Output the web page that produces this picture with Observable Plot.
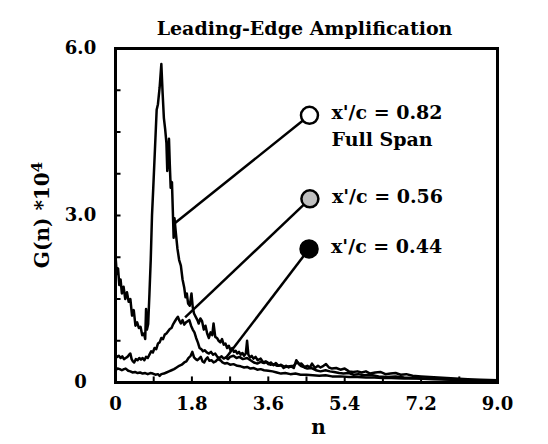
<!DOCTYPE html>
<html><head><meta charset="utf-8">
<script src="https://cdn.jsdelivr.net/npm/d3@7"></script>
<script src="https://cdn.jsdelivr.net/npm/@observablehq/plot@0.6"></script>
<style>body{margin:0;background:#fff}</style>
</head><body><div id="chart"></div>
<script>
// x'/c = 0.82 Full Span  [n, G(n)*1e4]
const series082 = [[0,2.28],[0.03,1.95],[0.06,2.05],[0.09,1.75],[0.12,1.85],[0.15,1.6],[0.19,1.72],[0.23,1.5],[0.27,1.62],[0.31,1.45],[0.35,1.5],[0.39,1.2],[0.43,1.3],[0.47,1.02],[0.51,1.08],[0.55,0.98],[0.59,1.0],[0.63,0.85],[0.67,0.88],[0.70,0.78],[0.72,1.32],[0.74,0.95],[0.77,1.05],[0.80,1.6],[0.83,2.2],[0.86,3.0],[0.89,3.5],[0.93,4.2],[0.97,4.9],[1.0,5.0],[1.04,5.3],[1.08,5.72],[1.11,5.2],[1.14,4.75],[1.17,4.55],[1.20,4.3],[1.22,3.8],[1.24,4.1],[1.26,4.38],[1.28,3.9],[1.30,3.5],[1.33,3.6],[1.35,3.1],[1.37,2.6],[1.39,2.95],[1.42,2.7],[1.46,2.4],[1.50,2.2],[1.54,2.1],[1.58,1.85],[1.62,1.7],[1.65,1.53],[1.68,1.6],[1.71,1.42],[1.75,1.38],[1.79,1.6],[1.82,1.35],[1.85,1.24],[1.89,1.18],[1.93,1.12],[1.96,1.06],[2.0,1.15],[2.04,1.1],[2.08,0.95],[2.12,1.02],[2.16,0.88],[2.2,0.8],[2.24,0.9],[2.28,0.85],[2.31,1.06],[2.35,0.82],[2.39,0.8],[2.43,0.75],[2.47,0.72],[2.51,0.78],[2.55,0.68],[2.59,0.7],[2.63,0.62],[2.67,0.66],[2.71,0.58],[2.75,0.62],[2.79,0.55],[2.83,0.57],[2.87,0.52],[2.91,0.55],[2.95,0.5],[2.99,0.53],[3.03,0.48],[3.07,0.52],[3.1,0.75],[3.13,0.5],[3.17,0.45],[3.21,0.48],[3.25,0.43],[3.3,0.46],[3.35,0.4],[3.42,0.43],[3.48,0.36],[3.54,0.38],[3.6,0.33],[3.66,0.36],[3.72,0.31],[3.78,0.35],[3.84,0.3],[3.9,0.32],[3.96,0.26],[4.02,0.3],[4.08,0.27],[4.14,0.29],[4.2,0.26],[4.26,0.4],[4.32,0.33],[4.38,0.34],[4.45,0.28],[4.52,0.3],[4.58,0.27],[4.63,0.34],[4.7,0.26],[4.77,0.3],[4.83,0.27],[4.9,0.3],[4.96,0.33],[5.03,0.27],[5.1,0.25],[5.2,0.26],[5.3,0.23],[5.4,0.25],[5.5,0.2],[5.6,0.19],[5.7,0.2],[5.8,0.18],[5.9,0.2],[6.0,0.16],[6.12,0.18],[6.24,0.19],[6.36,0.15],[6.48,0.16],[6.6,0.17],[6.72,0.14],[6.85,0.15],[7.0,0.12],[7.2,0.11],[7.4,0.1],[7.6,0.09],[7.8,0.08],[8.0,0.07],[8.3,0.06],[8.6,0.05],[9.0,0.04]];
// x'/c = 0.56
const series056 = [[0,0.5],[0.04,0.46],[0.08,0.48],[0.12,0.44],[0.16,0.47],[0.2,0.42],[0.24,0.44],[0.28,0.46],[0.32,0.5],[0.35,0.52],[0.38,0.42],[0.41,0.38],[0.44,0.36],[0.48,0.42],[0.52,0.4],[0.56,0.44],[0.6,0.41],[0.64,0.44],[0.68,0.4],[0.72,0.46],[0.76,0.44],[0.8,0.5],[0.84,0.56],[0.88,0.54],[0.92,0.62],[0.96,0.6],[1.0,0.7],[1.04,0.72],[1.08,0.8],[1.12,0.78],[1.16,0.86],[1.2,0.88],[1.24,0.92],[1.28,0.96],[1.32,0.98],[1.36,1.05],[1.4,1.1],[1.44,1.15],[1.47,1.18],[1.5,1.12],[1.54,1.06],[1.58,1.12],[1.62,1.04],[1.66,1.08],[1.7,1.1],[1.74,1.12],[1.78,1.02],[1.82,0.95],[1.86,0.9],[1.9,0.8],[1.94,0.72],[1.98,0.62],[2.02,0.6],[2.06,0.56],[2.1,0.58],[2.15,0.54],[2.2,0.52],[2.25,0.55],[2.3,0.5],[2.35,0.52],[2.4,0.46],[2.45,0.44],[2.5,0.47],[2.55,0.43],[2.6,0.45],[2.65,0.42],[2.7,0.46],[2.78,0.48],[2.85,0.44],[2.92,0.46],[3.0,0.42],[3.1,0.44],[3.18,0.4],[3.26,0.36],[3.34,0.34],[3.42,0.37],[3.5,0.35],[3.57,0.37],[3.65,0.32],[3.73,0.33],[3.81,0.3],[3.9,0.31],[4.0,0.28],[4.1,0.29],[4.2,0.3],[4.28,0.37],[4.36,0.3],[4.45,0.27],[4.52,0.25],[4.62,0.26],[4.72,0.22],[4.83,0.2],[4.95,0.22],[5.05,0.2],[5.15,0.19],[5.27,0.17],[5.37,0.16],[5.5,0.17],[5.61,0.14],[5.72,0.15],[5.84,0.13],[6.0,0.14],[6.2,0.11],[6.4,0.1],[6.6,0.11],[6.8,0.09],[7.0,0.08],[7.3,0.07],[7.6,0.07],[8.0,0.05],[8.4,0.04],[8.7,0.04],[9.0,0.03]];
// x'/c = 0.44
const series044 = [[0,0.22],[0.05,0.25],[0.1,0.24],[0.15,0.22],[0.2,0.24],[0.24,0.25],[0.3,0.21],[0.35,0.2],[0.4,0.18],[0.46,0.19],[0.52,0.17],[0.58,0.18],[0.64,0.16],[0.7,0.17],[0.76,0.15],[0.82,0.17],[0.88,0.16],[0.94,0.14],[1.0,0.15],[1.04,0.12],[1.08,0.15],[1.14,0.16],[1.2,0.18],[1.26,0.2],[1.32,0.22],[1.38,0.24],[1.44,0.27],[1.5,0.3],[1.56,0.32],[1.62,0.36],[1.67,0.38],[1.72,0.44],[1.77,0.48],[1.81,0.55],[1.85,0.45],[1.89,0.42],[1.93,0.4],[1.97,0.43],[2.01,0.46],[2.05,0.38],[2.09,0.36],[2.13,0.42],[2.17,0.45],[2.21,0.39],[2.26,0.4],[2.31,0.36],[2.36,0.38],[2.41,0.42],[2.47,0.4],[2.52,0.36],[2.58,0.34],[2.63,0.35],[2.7,0.32],[2.78,0.33],[2.87,0.3],[2.95,0.29],[3.03,0.27],[3.1,0.28],[3.18,0.25],[3.26,0.26],[3.34,0.23],[3.42,0.24],[3.5,0.22],[3.6,0.21],[3.7,0.2],[3.8,0.18],[3.9,0.16],[4.0,0.17],[4.12,0.15],[4.24,0.16],[4.36,0.14],[4.5,0.14],[4.65,0.13],[4.8,0.12],[4.95,0.13],[5.1,0.11],[5.3,0.11],[5.5,0.1],[5.7,0.1],[5.9,0.09],[6.1,0.09],[6.3,0.08],[6.5,0.08],[6.8,0.07],[7.1,0.07],[7.5,0.06],[7.9,0.05],[8.3,0.04],[8.7,0.03],[9.0,0.03]];

const xTickLabels = [0, 1.8, 3.6, 5.4, 7.2, 9.0];
const yTickLabels = [0, 3.0, 6.0];
const xMinorTicks = [0.9, 1.8, 2.7, 3.6, 4.5, 5.4, 6.3, 7.2, 8.1];
const yMinorTicks = [0.75, 1.5, 2.25, 3.0, 3.75, 4.5, 5.25];

// legend markers: label, fill, marker position (n, G) and leader start on curve (n0, G0)
const markerLabels = ["x'/c = 0.82", "x'/c = 0.56", "x'/c = 0.44"];
const markerFills = ["white", "#c0c0c0", "black"];
const markerN = [4.57, 4.58, 4.56];
const markerG = [4.8, 3.3, 2.4];
const leaderN = [1.41, 1.64, 2.59];
const leaderG = [2.87, 1.17, 0.43];
const markers = markerLabels.map((label, i) => ({label, fill: markerFills[i], n: markerN[i], g: markerG[i], n0: leaderN[i], g0: leaderG[i]}));

const font = "DejaVu Serif";
const fmt = d => d === 0 ? "0" : d.toFixed(1);

const chart = Plot.plot({
  width: 548, height: 444,
  marginLeft: 115, marginRight: 51, marginTop: 48, marginBottom: 62,
  x: {domain: [0, 9], axis: null},
  y: {domain: [0, 6], axis: null},
  color: {type: "identity"},
  style: {fontFamily: font, fontWeight: "bold", background: "white", color: "black"},
  marks: [
    Plot.ruleX(xMinorTicks, {x: d => d, y1: 0, y2: 0.1, strokeWidth: 2}),
    Plot.ruleY(yMinorTicks, {y: d => d, x1: 0, x2: 0.13, strokeWidth: 2}),
    Plot.line(series044, {x: d => d[0], y: d => d[1], strokeWidth: 2.5, strokeLinejoin: "round"}),
    Plot.line(series056, {x: d => d[0], y: d => d[1], strokeWidth: 2.5, strokeLinejoin: "round"}),
    Plot.line(series082, {x: d => d[0], y: d => d[1], strokeWidth: 2.5, strokeLinejoin: "round"}),
    Plot.frame({strokeWidth: 3}),
    Plot.link(markers, {x1: "n0", y1: "g0", x2: "n", y2: "g", strokeWidth: 2.5}),
    Plot.dot(markers, {x: "n", y: "g", r: 8.5, fill: d => d.fill, stroke: "black", strokeWidth: 2.5}),
    Plot.text(markers, {x: "n", y: "g", text: "label", dx: 22, dy: -2, textAnchor: "start", fontSize: 19, fontWeight: "bold"}),
    Plot.text(markers.slice(0, 1), {x: "n", y: "g", text: () => "Full Span", dx: 22, dy: 25, textAnchor: "start", fontSize: 19, fontWeight: "bold"}),
    Plot.text(xTickLabels, {x: d => d, frameAnchor: "bottom", dy: 27, text: fmt, fontSize: 18, fontWeight: "bold"}),
    Plot.text(yTickLabels, {y: d => d, frameAnchor: "left", dx: -35, text: fmt, fontSize: 18, fontWeight: "bold", textAnchor: "middle"}),
    Plot.text(["n"], {frameAnchor: "bottom", dx: 12, dy: 51, text: d => d, fontSize: 20, fontWeight: "bold"}),
    Plot.text(["Leading-Edge Amplification"], {frameAnchor: "top", dx: -2, dy: -27, text: d => d, fontSize: 19, fontWeight: "bold"})
  ]
});

// rotated y-axis title with superscript
const svg = d3.select(chart);
const yt = svg.append("text")
  .attr("transform", "translate(42,215) rotate(-90)")
  .attr("text-anchor", "middle")
  .attr("font-family", font)
  .attr("font-weight", "bold")
  .attr("font-size", 20)
  .attr("fill", "black");
yt.append("tspan").attr("dy", "0.35em").text("G(n) *10");
yt.append("tspan").attr("dy", "-0.5em").attr("font-size", 15).text("4");

document.getElementById("chart").appendChild(chart);
</script>
</body></html>
